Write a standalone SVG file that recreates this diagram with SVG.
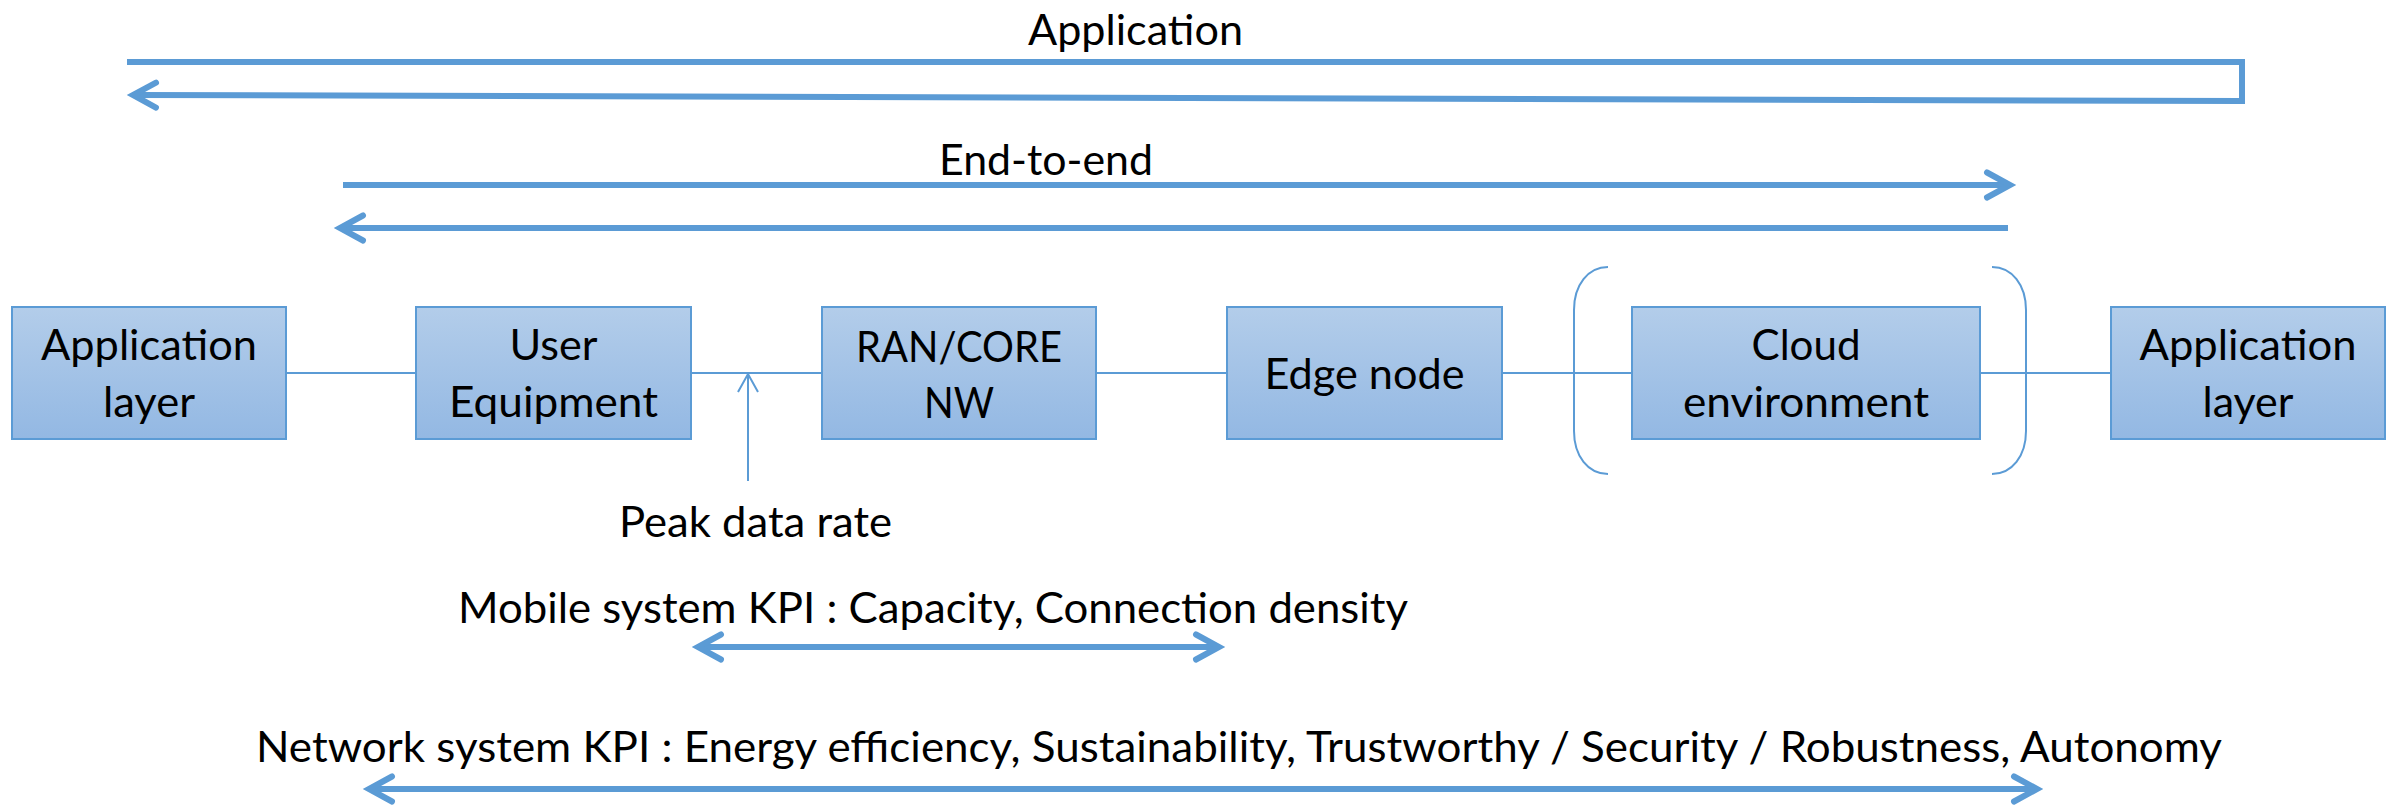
<svg xmlns="http://www.w3.org/2000/svg" width="2394" height="807" viewBox="0 0 2394 807">
<style>
text{font-family:Lato,"Open Sans","Liberation Sans",sans-serif;font-size:42px;fill:#000;text-anchor:middle}
.box{fill:url(#g);stroke:#5B9BD5;stroke-width:2}
.thin{fill:none;stroke:#5B9BD5;stroke-width:2}
.thick{fill:none;stroke:#5B9BD5;stroke-width:6;stroke-linejoin:miter}
</style>
<defs>
<linearGradient id="g" x1="0" y1="0" x2="0" y2="1">
<stop offset="0" stop-color="#B3CDEA"/>
<stop offset="1" stop-color="#93B8E3"/>
</linearGradient>
<marker id="ah" markerUnits="userSpaceOnUse" viewBox="-40 -20 50 40" markerWidth="50" markerHeight="40" refX="0" refY="0" orient="auto-start-reverse">
<path d="M-23,-12.5 L0,0 L-23,12.5" fill="none" stroke="#5B9BD5" stroke-width="6" stroke-linecap="round" stroke-linejoin="miter"/>
</marker>
<marker id="ahs" markerUnits="userSpaceOnUse" viewBox="-30 -15 40 30" markerWidth="40" markerHeight="30" refX="0" refY="0" orient="auto">
<path d="M-18,-10 L0,0 L-18,10" fill="none" stroke="#5B9BD5" stroke-width="2"/>
</marker>
</defs>

<g id="connectors">
<path id="app-arrow" class="thick" d="M127,62 H2242 V101 L133,95" marker-end="url(#ah)"/>
<path id="e2e-fwd" class="thick" d="M343,185 H2010" marker-end="url(#ah)"/>
<path id="e2e-back" class="thick" d="M2008,228 H340" marker-end="url(#ah)"/>
<path class="thin" d="M286,373 H416 M691,373 H822 M1096,373 H1227 M1502,373 H1632 M1980,373 H2111"/>
<path id="peak-arrow" class="thin" d="M748,481 V374" marker-end="url(#ahs)"/>
<path id="mobile-arrow" class="thick" d="M698,647 H1219" marker-start="url(#ah)" marker-end="url(#ah)"/>
<path id="network-arrow" class="thick" d="M369,789 H2037" marker-start="url(#ah)" marker-end="url(#ah)"/>
</g>

<g id="cloud-brackets">
<path class="thin" d="M1608,267 C1588,267 1574,285 1574,310 L1574,431 C1574,456 1588,474 1608,474"/>
<path class="thin" d="M1992,267 C2012,267 2026,285 2026,310 L2026,431 C2026,456 2012,474 1992,474"/>
</g>

<g id="app-left">
<rect class="box" x="12" y="307" width="274" height="132"/>
<text x="149" y="360" textLength="216" lengthAdjust="spacingAndGlyphs">Application</text>
<text x="149" y="417" textLength="92" lengthAdjust="spacingAndGlyphs">layer</text>
</g>
<g id="ue">
<rect class="box" x="416" y="307" width="275" height="132"/>
<text x="553.5" y="360" textLength="88" lengthAdjust="spacingAndGlyphs">User</text>
<text x="553.5" y="417" textLength="209" lengthAdjust="spacingAndGlyphs">Equipment</text>
</g>
<g id="ran">
<rect class="box" x="822" y="307" width="274" height="132"/>
<text x="959" y="362" textLength="206" lengthAdjust="spacingAndGlyphs">RAN/CORE</text>
<text x="959" y="418" textLength="70" lengthAdjust="spacingAndGlyphs">NW</text>
</g>
<g id="edge">
<rect class="box" x="1227" y="307" width="275" height="132"/>
<text x="1364.5" y="389" textLength="200" lengthAdjust="spacingAndGlyphs">Edge node</text>
</g>
<g id="cloud">
<rect class="box" x="1632" y="307" width="348" height="132"/>
<text x="1806" y="360" textLength="109" lengthAdjust="spacingAndGlyphs">Cloud</text>
<text x="1806" y="417" textLength="246" lengthAdjust="spacingAndGlyphs">environment</text>
</g>
<g id="app-right">
<rect class="box" x="2111" y="307" width="274" height="132"/>
<text x="2248" y="360" textLength="217" lengthAdjust="spacingAndGlyphs">Application</text>
<text x="2248" y="417" textLength="91" lengthAdjust="spacingAndGlyphs">layer</text>
</g>

<g id="labels">
<text x="1135.5" y="45" textLength="215" lengthAdjust="spacingAndGlyphs">Application</text>
<text x="1046" y="175" textLength="214" lengthAdjust="spacingAndGlyphs">End-to-end</text>
<text x="755.5" y="537" textLength="273" lengthAdjust="spacingAndGlyphs">Peak data rate</text>
<text x="933" y="623" textLength="950" lengthAdjust="spacingAndGlyphs">Mobile system KPI : Capacity, Connection density</text>
<text x="1239" y="762" textLength="1966" lengthAdjust="spacingAndGlyphs">Network system KPI : Energy efficiency, Sustainability, Trustworthy / Security / Robustness, Autonomy</text>
</g>
</svg>
